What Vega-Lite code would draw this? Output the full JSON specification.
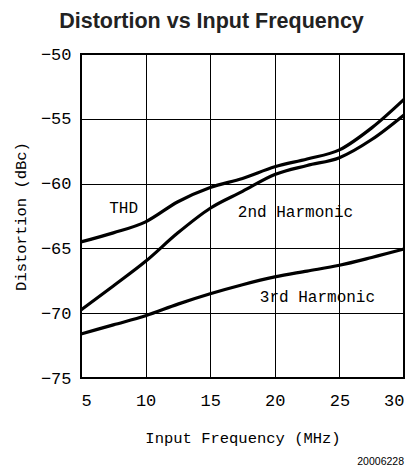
{
  "$schema": "https://vega.github.io/schema/vega-lite/v6.json",
  "autosize": {"type": "none"},
  "width": 323,
  "height": 324,
  "padding": {"left": 81, "top": 54, "right": 15, "bottom": 92},
  "background": "white",
  "title": {"text": "Distortion vs Input Frequency", "font": "Liberation Sans", "fontSize": 21.5, "fontWeight": "bold", "color": "#222", "anchor": "middle", "offset": 13, "dx": -31},
  "config": {
    "view": {"stroke": "black", "strokeWidth": 2},
    "axis": {"grid": true, "gridColor": "black", "gridOpacity": 1, "gridWidth": 1, "domain": false, "ticks": false, "labelFont": "Liberation Mono", "labelFontSize": 17, "labelColor": "black", "titleFont": "Liberation Mono", "titleFontSize": 15.5, "titleFontWeight": "normal", "titleColor": "black"}
  },
  "datasets": {
    "curves": [
      {"f": 5, "d": -64.5, "s": "THD"},
      {"f": 7.5, "d": -63.8, "s": "THD"},
      {"f": 10, "d": -62.95, "s": "THD"},
      {"f": 12.5, "d": -61.4, "s": "THD"},
      {"f": 15, "d": -60.3, "s": "THD"},
      {"f": 17.5, "d": -59.6, "s": "THD"},
      {"f": 20, "d": -58.7, "s": "THD"},
      {"f": 22.5, "d": -58.1, "s": "THD"},
      {"f": 25, "d": -57.4, "s": "THD"},
      {"f": 27.5, "d": -55.7, "s": "THD"},
      {"f": 30, "d": -53.5, "s": "THD"},
      {"f": 5, "d": -69.75, "s": "2nd"},
      {"f": 7.5, "d": -67.9, "s": "2nd"},
      {"f": 10, "d": -66.0, "s": "2nd"},
      {"f": 12.5, "d": -63.8, "s": "2nd"},
      {"f": 15, "d": -61.9, "s": "2nd"},
      {"f": 17.5, "d": -60.6, "s": "2nd"},
      {"f": 20, "d": -59.3, "s": "2nd"},
      {"f": 22.5, "d": -58.6, "s": "2nd"},
      {"f": 25, "d": -58.0, "s": "2nd"},
      {"f": 27.5, "d": -56.6, "s": "2nd"},
      {"f": 30, "d": -54.7, "s": "2nd"},
      {"f": 5, "d": -71.6, "s": "3rd"},
      {"f": 7.5, "d": -70.9, "s": "3rd"},
      {"f": 10, "d": -70.2, "s": "3rd"},
      {"f": 12.5, "d": -69.3, "s": "3rd"},
      {"f": 15, "d": -68.5, "s": "3rd"},
      {"f": 17.5, "d": -67.8, "s": "3rd"},
      {"f": 20, "d": -67.2, "s": "3rd"},
      {"f": 22.5, "d": -66.75, "s": "3rd"},
      {"f": 25, "d": -66.3, "s": "3rd"},
      {"f": 27.5, "d": -65.7, "s": "3rd"},
      {"f": 30, "d": -65.05, "s": "3rd"}
    ],
    "labels": [
      {"f": 8.3, "d": -61.9, "t": "THD"},
      {"f": 21.6, "d": -62.2, "t": "2nd Harmonic"},
      {"f": 23.3, "d": -68.75, "t": "3rd Harmonic"}
    ],
    "note": [{"f": 30, "d": -75, "t": "20006228"}]
  },
  "layer": [
    {
      "data": {"name": "curves"},
      "mark": {"type": "line", "interpolate": "monotone", "color": "black", "strokeWidth": 3.2},
      "encoding": {
        "x": {"field": "f", "type": "quantitative", "scale": {"domain": [5, 30], "nice": false, "zero": false}, "axis": {"values": [5, 10, 15, 20, 25, 30], "title": "Input Frequency (MHz)", "labelPadding": 14, "titlePadding": 22}},
        "y": {"field": "d", "type": "quantitative", "scale": {"domain": [-75, -50], "nice": false, "zero": false}, "axis": {"values": [-75, -70, -65, -60, -55, -50], "title": "Distortion (dBc)", "labelPadding": 10, "titlePadding": 12}},
        "detail": {"field": "s"}
      }
    },
    {
      "data": {"name": "labels"},
      "mark": {"type": "text", "font": "Liberation Mono", "fontSize": 16, "color": "black", "align": "center", "baseline": "middle"},
      "encoding": {
        "x": {"field": "f", "type": "quantitative"},
        "y": {"field": "d", "type": "quantitative"},
        "text": {"field": "t"}
      }
    },
    {
      "data": {"name": "note"},
      "mark": {"type": "text", "font": "Liberation Sans", "fontSize": 10.5, "color": "black", "align": "right", "baseline": "middle", "dy": 84},
      "encoding": {
        "x": {"field": "f", "type": "quantitative"},
        "y": {"field": "d", "type": "quantitative"},
        "text": {"field": "t"}
      }
    }
  ]
}
